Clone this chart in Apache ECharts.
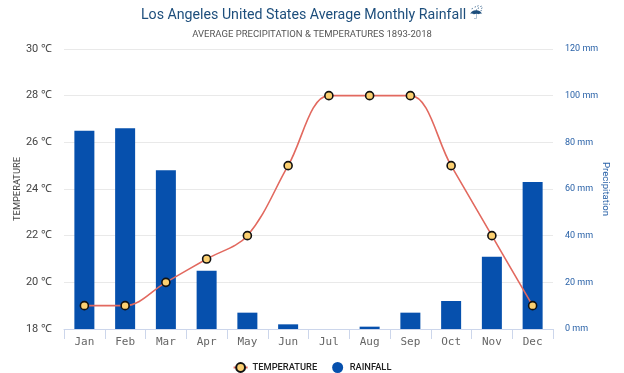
<!DOCTYPE html>
<html><head><meta charset="utf-8">
<style>html,body{margin:0;padding:0;background:#fff}#c{width:624px;height:373px}</style>
<script src="https://cdn.jsdelivr.net/npm/echarts@6/dist/echarts.min.js"></script>
</head><body><div id="c"></div>
<script>
const months = ["Jan","Feb","Mar","Apr","May","Jun","Jul","Aug","Sep","Oct","Nov","Dec"];
const temperature = [19,19,20,21,22,25,28,28,28,25,22,19];
const rainfall = [85,86,68,25,7,2,0,1,7,12,31,63];
const titleText = "Los Angeles United States Average Monthly Rainfall {u|☔\uFE0E}";
const subtitleText = "AVERAGE PRECIPITATION & TEMPERATURES 1893-2018";
const chart = echarts.init(document.getElementById('c'), null, {renderer:'canvas'});
chart.setOption({
  animation:false,
  backgroundColor:'#fff',
  title:{text:titleText,subtext:subtitleText,left:'center',top:3,itemGap:7,
    textStyle:{fontFamily:'Roboto',fontSize:14.2,fontWeight:'normal',color:'#1d4e7c',
      rich:{u:{fontFamily:'DejaVu Sans',fontSize:15,color:'#1d4e7c'}}},
    subtextStyle:{fontFamily:'Roboto',fontSize:9.5,color:'#555'}},
  legend:{top:357,left:'center',itemGap:15,itemWidth:14,itemHeight:11,
    textStyle:{fontFamily:'Roboto',fontSize:9.3,fontWeight:500,color:'#222'},
    data:[{name:'TEMPERATURE'},{name:'RAINFALL',icon:'circle'}]},
  grid:{left:64,right:71,top:49,bottom:44,outerBoundsMode:'none'},
  xAxis:{type:'category',data:months,
    axisLine:{lineStyle:{color:'#ccd6eb'}},axisTick:{show:true,length:10,lineStyle:{color:'#ccd6eb'}},
    axisLabel:{fontFamily:'DejaVu Sans Mono',fontSize:11,color:'#666',margin:8}},
  yAxis:[{type:'value',min:18,max:30,interval:2,name:'TEMPERATURE',nameLocation:'middle',nameGap:42,nameRotate:90,nameMoveOverlap:false,
    nameTextStyle:{fontFamily:'Roboto',fontSize:9.3,color:'#444'},
    axisLabel:{fontFamily:'Roboto',fontSize:11,color:'#444',margin:12,formatter:'{value} ℃'},
    axisLine:{show:false},axisTick:{show:false},splitLine:{lineStyle:{color:'#e9e9e9'}}},
   {type:'value',min:0,max:120,interval:20,name:'Precipitation',nameLocation:'middle',nameGap:47,nameRotate:-90,nameMoveOverlap:false,
    nameTextStyle:{fontFamily:'Roboto',fontSize:9.6,color:'#2a62a8'},
    axisLabel:{fontFamily:'Roboto',fontSize:9,color:'#2a62a8',margin:12,formatter:'{value} mm'},
    axisLine:{show:false},axisTick:{show:false},splitLine:{show:false}}],
  series:[
   {name:'RAINFALL',type:'bar',yAxisIndex:1,data:rainfall,barWidth:20,itemStyle:{color:'#0650ad'},z:1},
   {name:'TEMPERATURE',type:'line',yAxisIndex:0,data:temperature,smooth:0.35,symbol:'circle',symbolSize:8,
    lineStyle:{color:'#e2695f',width:1.6},
    itemStyle:{color:'#fbd071',borderColor:'#111',borderWidth:1.6},z:2}
  ]
});
</script></body></html>
